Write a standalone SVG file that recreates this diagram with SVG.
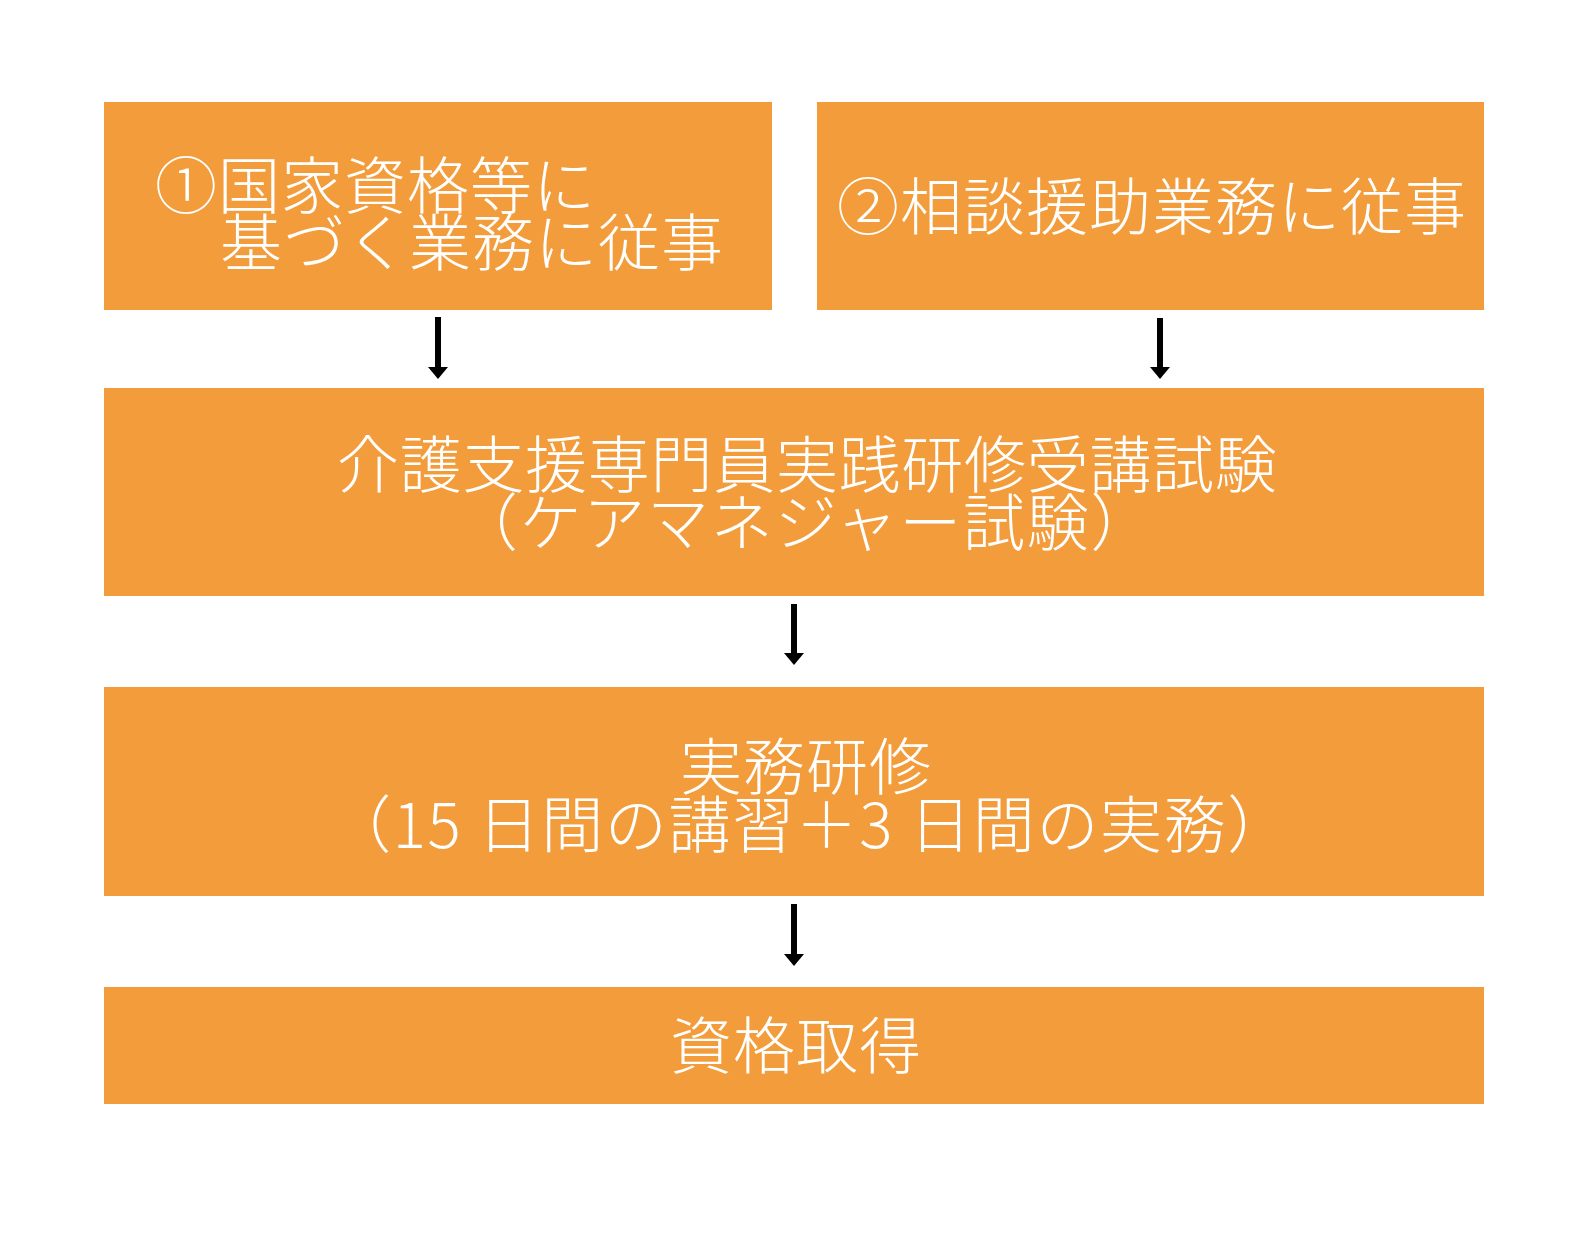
<svg xmlns="http://www.w3.org/2000/svg" width="1576" height="1233" viewBox="0 0 1576 1233">
<defs>
<style>
.box{fill:#F39C3B;}
.t{fill:#FFFFFF;font-family:"Noto Sans CJK JP","Noto Sans CJK SC",sans-serif;font-size:62px;font-weight:300;letter-spacing:1px;}
.arr{stroke:#000;stroke-width:6;fill:none;}
.head{fill:#000;}
</style>
</defs>
<rect width="1576" height="1233" fill="#FFFFFF"/>
<g id="node1">
<rect class="box" x="104" y="102" width="668" height="208"/>
<text class="t" x="155" y="209">①国家資格等に</text>
<text class="t" x="220" y="266">基づく業務に従事</text>
</g>
<g id="node2">
<rect class="box" x="817" y="102" width="667" height="208"/>
<text class="t" x="837" y="230">②相談援助業務に従事</text>
</g>
<g id="node3">
<rect class="box" x="104" y="388" width="1380" height="208"/>
<text class="t" x="337" y="488" style="letter-spacing:0.7px">介護支援専門員実践研修受講試験</text>
<text class="t" x="805" y="546" text-anchor="middle" style="letter-spacing:1.8px">（ケアマネジャー試験）</text>
</g>
<g id="node4">
<rect class="box" x="104" y="687" width="1380" height="209"/>
<text class="t" x="680" y="790">実務研修</text>
<text class="t" x="810" y="848" text-anchor="middle" style="letter-spacing:1.6px">（15 日間の講習＋3 日間の実務）</text>
</g>
<g id="node5">
<rect class="box" x="104" y="987" width="1380" height="117"/>
<text class="t" x="670" y="1069">資格取得</text>
</g>
<g id="connectors">
<line class="arr" x1="438" y1="317" x2="438" y2="368"/>
<polygon class="head" points="428,367 448,367 438,379"/>
<line class="arr" x1="1160" y1="318" x2="1160" y2="368"/>
<polygon class="head" points="1150,367 1170,367 1160,379"/>
<line class="arr" x1="794" y1="604" x2="794" y2="654"/>
<polygon class="head" points="784,653 804,653 794,665"/>
<line class="arr" x1="794" y1="904" x2="794" y2="955"/>
<polygon class="head" points="784,954 804,954 794,966"/>
</g>
</svg>
